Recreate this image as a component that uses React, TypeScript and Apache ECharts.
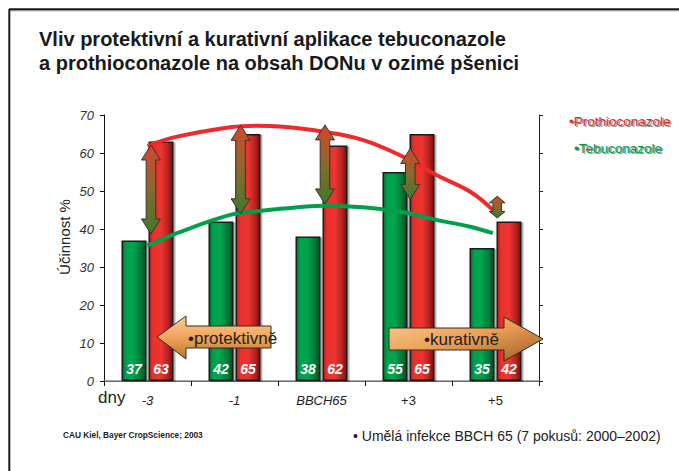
import React, { useEffect, useRef } from "react";
import * as echarts from "echarts";

const categories = ["-3", "-1", "BBCH65", "+3", "+5"];
const tebuconazoleBars = [37, 42, 38, 55, 35];
const prothioconazoleBars = [63, 65, 62, 65, 42];

// smooth trend curves, x in category units (0..5)
const curveX = [0.5, 0.84, 1.45, 1.76, 2.06, 2.52, 2.98, 3.44, 3.82, 4.21, 4.47];
const prothioCurve = [61.9, 64.3, 66.8, 67.2, 66.9, 65.6, 63.4, 59, 54.2, 49.8, 45];
const tebuCurve = [35.6, 38.9, 43.7, 44.7, 45.4, 46.1, 45.7, 44.4, 42.4, 40.6, 38.9];

// difference arrows: x (category units), top value, bottom value
const arrowX = [0.54, 1.57, 2.54, 3.52, 4.52];
const arrowTop = [62.1, 67.3, 67.4, 61.2, 48.6];
const arrowBottom = [38.7, 44.0, 46.6, 47.8, 42.9];

const legendNames = ["Prothioconazole", "Tebuconazole"];
const legendColors = ["#ee2a2a", "#00a04a"];

const yTicks = [0, 10, 20, 30, 40, 50, 60, 70];

const FONT = '"Liberation Sans", Arial, sans-serif';

export default function App() {
  const ref = useRef<HTMLDivElement>(null);

  useEffect(() => {
    if (!ref.current) return;
    const chart = echarts.init(ref.current, null, { renderer: "svg" });

    const greenGrad = new echarts.graphic.LinearGradient(0, 0, 1, 0, [
      { offset: 0, color: "#00692b" },
      { offset: 0.15, color: "#00a04a" },
      { offset: 0.45, color: "#00a650" },
      { offset: 0.8, color: "#00783a" },
      { offset: 1, color: "#004a1e" },
    ]);
    const redGrad = new echarts.graphic.LinearGradient(0, 0, 1, 0, [
      { offset: 0, color: "#a81f1f" },
      { offset: 0.15, color: "#e8302a" },
      { offset: 0.5, color: "#ee3530" },
      { offset: 0.8, color: "#b52323" },
      { offset: 1, color: "#751010" },
    ]);

    const prothioData = curveX.map((x, i) => [x, prothioCurve[i]]);
    const tebuData = curveX.map((x, i) => [x, tebuCurve[i]]);
    const arrowData = arrowX.map((x, i) => [x, arrowTop[i], arrowBottom[i]]);

    const barLabel = {
      show: true,
      position: "insideBottom",
      distance: 5,
      color: "#ffffff",
      fontWeight: "bold",
      fontStyle: "italic",
      fontSize: 14,
      fontFamily: FONT,
    };

    const legendGraphics: any[] = [];
    legendNames.forEach((name, i) => {
      const x = i === 0 ? 569 : 574;
      const y = 121 + i * 27;
      legendGraphics.push({
        type: "text",
        z: 99,
        x: x + 1.5,
        y: y + 1.5,
        style: { text: "•" + name, fontFamily: FONT, fontSize: 13.5, fill: "#8f8f8f", align: "left", verticalAlign: "middle" },
      });
      legendGraphics.push({
        type: "text",
        z: 100,
        x,
        y,
        style: { text: "•" + name, fontFamily: FONT, fontSize: 13.5, fill: legendColors[i], align: "left", verticalAlign: "middle" },
      });
    });

    const option: any = {
      animation: false,
      backgroundColor: "#ffffff",
      textStyle: { fontFamily: FONT },
      title: {
        text: "Vliv protektivní a kurativní aplikace tebuconazole\na prothioconazole na obsah DONu v ozimé pšenici",
        left: 39,
        top: 27,
        padding: 0,
        textStyle: {
          fontFamily: FONT,
          fontSize: 20,
          fontWeight: "bold",
          color: "#1a1a1a",
          lineHeight: 24,
        },
      },
      grid: { left: 104, right: 140, top: 115, bottom: 90, containLabel: false },
      xAxis: [
        {
          type: "category",
          data: categories,
          position: "bottom",
          axisLine: { show: true, lineStyle: { color: "#111", width: 1 } },
          axisTick: { show: true, length: 5, lineStyle: { color: "#111" } },
          axisLabel: {
            margin: 13,
            fontSize: 13,
            color: "#222",
            fontFamily: FONT,
            formatter: (v: string) => (v.startsWith("+") ? `{u|${v}}` : `{i|${v}}`),
            rich: {
              i: { fontStyle: "italic", fontSize: 13, color: "#222", fontFamily: FONT },
              u: { fontStyle: "normal", fontSize: 13, color: "#222", fontFamily: FONT },
            },
          },
          splitLine: { show: false },
        },
        {
          type: "value",
          min: 0,
          max: 5,
          position: "top",
          axisLine: { show: true, lineStyle: { color: "#8a8a8a", width: 1.5 } },
          axisTick: { show: false },
          axisLabel: { show: false },
          splitLine: { show: false },
        },
      ],
      yAxis: [
        {
          type: "value",
          min: 0,
          max: 70,
          interval: 10,
          position: "left",
          axisLine: { show: true, lineStyle: { color: "#111", width: 1 } },
          axisTick: { show: true, length: 4, lineStyle: { color: "#111" } },
          axisLabel: {
            margin: 10,
            fontSize: 13,
            fontStyle: "italic",
            color: "#333",
            fontFamily: FONT,
            formatter: (v: number) => (yTicks.includes(v) ? String(v) : ""),
          },
          splitLine: { show: false },
        },
        {
          type: "value",
          min: 0,
          max: 70,
          interval: 10,
          position: "right",
          axisLine: { show: true, lineStyle: { color: "#222", width: 1 } },
          axisTick: { show: true, length: 4, lineStyle: { color: "#222" } },
          axisLabel: { show: false },
          splitLine: { show: false },
        },
      ],
      series: [
        {
          name: "Tebuconazole bars",
          type: "bar",
          xAxisIndex: 0,
          yAxisIndex: 0,
          data: tebuconazoleBars,
          barWidth: 25,
          barGap: "8%",
          z: 2,
          itemStyle: {
            color: greenGrad,
            borderColor: "#1a1a1a",
            borderWidth: 1.5,
            shadowColor: "rgba(0,0,0,0.3)",
            shadowOffsetX: 2,
            shadowOffsetY: 1,
            shadowBlur: 1,
          },
          label: barLabel,
        },
        {
          name: "Prothioconazole bars",
          type: "bar",
          xAxisIndex: 0,
          yAxisIndex: 0,
          data: prothioconazoleBars,
          barWidth: 25,
          z: 2,
          itemStyle: {
            color: redGrad,
            borderColor: "#1a1a1a",
            borderWidth: 1.5,
            shadowColor: "rgba(0,0,0,0.3)",
            shadowOffsetX: 2,
            shadowOffsetY: 1,
            shadowBlur: 1,
          },
          label: barLabel,
        },
        {
          name: "Prothioconazole",
          type: "line",
          xAxisIndex: 1,
          yAxisIndex: 0,
          data: prothioData,
          smooth: 0.4,
          showSymbol: false,
          symbol: "none",
          z: 4,
          color: legendColors[0],
          lineStyle: { color: legendColors[0], width: 4 },
        },
        {
          name: "Tebuconazole",
          type: "line",
          xAxisIndex: 1,
          yAxisIndex: 0,
          data: tebuData,
          smooth: 0.4,
          showSymbol: false,
          symbol: "none",
          z: 4,
          color: legendColors[1],
          lineStyle: { color: legendColors[1], width: 4 },
        },
        {
          name: "Rozdíl",
          type: "custom",
          xAxisIndex: 1,
          yAxisIndex: 0,
          data: arrowData,
          encode: { x: 0, y: [1, 2] },
          z: 6,
          renderItem: (params: any, api: any) => {
            const x = api.value(0);
            const p1 = api.coord([x, api.value(1)]);
            const p2 = api.coord([x, api.value(2)]);
            const cx = p1[0];
            const y1 = p1[1];
            const y2 = p2[1];
            const len = y2 - y1;
            const small = len < 40;
            const hl = Math.min(15, len * 0.3);
            const hw = small ? 7.8 : 9.5;
            const sw = small ? 4.3 : 4.8;
            const points = [
              [cx, y1],
              [cx + hw, y1 + hl],
              [cx + sw, y1 + hl],
              [cx + sw, y2 - hl],
              [cx + hw, y2 - hl],
              [cx, y2],
              [cx - hw, y2 - hl],
              [cx - sw, y2 - hl],
              [cx - sw, y1 + hl],
              [cx - hw, y1 + hl],
            ];
            return {
              type: "polygon",
              shape: { points },
              style: {
                fill: new echarts.graphic.LinearGradient(0, 0, 0, 1, [
                  { offset: 0, color: "#d4452e" },
                  { offset: 0.5, color: "#8a6a2c" },
                  { offset: 1, color: "#3c7a2c" },
                ]),
                stroke: "#3a3328",
                lineWidth: 1,
              },
            };
          },
        },
      ],
      graphic: [
        // slide frame
        { type: "line", z: 100, shape: { x1: 9, y1: 10.8, x2: 679, y2: 10.8 }, style: { stroke: "#9a9a9a", lineWidth: 1 } },
        { type: "line", z: 100, shape: { x1: 9, y1: 9.3, x2: 679, y2: 9.3 }, style: { stroke: "#1a1a1a", lineWidth: 2 } },
        { type: "line", z: 100, shape: { x1: 9.3, y1: 9, x2: 9.3, y2: 471 }, style: { stroke: "#1a1a1a", lineWidth: 2 } },
        ...legendGraphics,
        // y axis name
        {
          type: "text",
          z: 100,
          x: 64,
          y: 237,
          rotation: Math.PI / 2,
          style: {
            text: "Účinnost %",
            fontFamily: FONT,
            fontSize: 15,
            fill: "#222",
            align: "center",
            verticalAlign: "middle",
          },
        },
        // x axis name
        {
          type: "text",
          z: 100,
          x: 98,
          y: 397,
          style: { text: "dny", fontFamily: FONT, fontSize: 17, fill: "#222", align: "left", verticalAlign: "middle" },
        },
        // protective arrow
        {
          type: "polygon",
          z: 100,
          shape: {
            points: [
              [157, 337],
              [186, 316],
              [186, 326],
              [271, 326],
              [271, 348],
              [186, 348],
              [186, 359],
            ],
          },
          style: {
            fill: new echarts.graphic.LinearGradient(0, 0, 0, 1, [
              { offset: 0, color: "#f9cd96" },
              { offset: 0.5, color: "#efa45c" },
              { offset: 1, color: "#b8742f" },
            ]),
            stroke: "#3a2a1a",
            lineWidth: 1,
          },
        },
        {
          type: "text",
          z: 101,
          x: 188,
          y: 338,
          style: { text: "•protektivně", fontFamily: FONT, fontSize: 17, fill: "#222", align: "left", verticalAlign: "middle" },
        },
        // curative arrow
        {
          type: "polygon",
          z: 100,
          shape: {
            points: [
              [389, 328],
              [504, 328],
              [504, 317],
              [543, 339],
              [504, 361],
              [504, 350],
              [389, 350],
            ],
          },
          style: {
            fill: new echarts.graphic.LinearGradient(0, 0, 1, 1, [
              { offset: 0, color: "#f9cd96" },
              { offset: 0.5, color: "#eb9d55" },
              { offset: 1, color: "#9c5e28" },
            ]),
            stroke: "#3a2a1a",
            lineWidth: 1,
          },
        },
        {
          type: "text",
          z: 101,
          x: 424,
          y: 339,
          style: { text: "•kurativně", fontFamily: FONT, fontSize: 17, fill: "#222", align: "left", verticalAlign: "middle" },
        },
        // footer
        {
          type: "text",
          z: 100,
          x: 63,
          y: 435,
          style: {
            text: "CAU Kiel, Bayer CropScience; 2003",
            fontFamily: FONT,
            fontSize: 8.3,
            fontWeight: "bold",
            fill: "#222",
            align: "left",
            verticalAlign: "middle",
          },
        },
        {
          type: "text",
          z: 100,
          x: 353,
          y: 436,
          style: {
            text: "• Umělá infekce BBCH 65 (7 pokusů: 2000–2002)",
            fontFamily: FONT,
            fontSize: 14,
            fill: "#222",
            align: "left",
            verticalAlign: "middle",
          },
        },
      ],
    };

    chart.setOption(option);
    return () => chart.dispose();
  }, []);

  return (
    <div
      ref={ref}
      style={{ position: "fixed", left: 0, top: 0, width: 679, height: 471, background: "#fff" }}
    />
  );
}
